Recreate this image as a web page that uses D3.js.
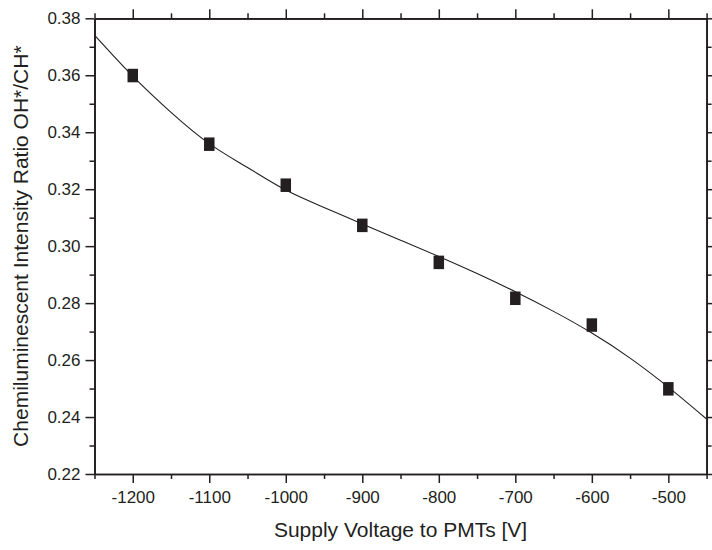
<!DOCTYPE html>
<html>
<head>
<meta charset="utf-8">
<script src="https://cdn.jsdelivr.net/npm/d3@7"></script>
<style>
  body { margin: 0; background: #fff; }
  svg text { font-family: "Liberation Sans", Arial, Helvetica, sans-serif; fill: #231f20; }
</style>
</head>
<body>
<svg id="chart" width="712" height="550"></svg>
<script>
// measured points
const voltages = [-1200, -1100, -1000, -900, -800, -700, -600, -500];
const ratios = [0.3599, 0.3358, 0.3214, 0.3073, 0.2943, 0.2817, 0.2723, 0.2499];

// fitted curve
const fitVoltages = [-1250, -1200, -1150, -1100, -1050, -1000, -950, -900, -850,
  -800, -750, -700, -650, -600, -550, -500, -450];
const fitRatios = [0.3741, 0.3597, 0.3470, 0.3360, 0.3276, 0.3197, 0.3136, 0.3078, 0.3021,
  0.2964, 0.2904, 0.2840, 0.2771, 0.2695, 0.2607, 0.2505, 0.2393];

const xTicks = [-1200, -1100, -1000, -900, -800, -700, -600, -500];
const yTicks = [0.22, 0.24, 0.26, 0.28, 0.30, 0.32, 0.34, 0.36, 0.38];

const ink = '#231f20';
const margin = { top: 18.3, right: 5.4, bottom: 76, left: 94.5 };
const width = 712, height = 550;

const svg = d3.select('#chart');

const x = d3.scaleLinear()
  .domain([-1250, -450])
  .range([margin.left, width - margin.right]);
const y = d3.scaleLinear()
  .domain([0.22, 0.38])
  .range([height - margin.bottom, margin.top]);

const x0 = x.range()[0], x1 = x.range()[1];
const y0 = y.range()[0], y1 = y.range()[1];

// minor ticks halfway between majors
const xMinor = d3.range(-1250, -449, 50).filter(v => !xTicks.includes(v));
const yMinor = d3.range(0, 8).map(i => +(0.23 + i * 0.02).toFixed(2));

function styleAxis(g) {
  g.select('.domain').attr('stroke', ink).attr('stroke-width', 1.7);
  g.selectAll('.tick line').attr('stroke', ink).attr('stroke-width', 1.5);
  g.selectAll('.tick text').style('font-size', '17px').attr('fill', ink);
}

// bottom
svg.append('g')
  .attr('transform', `translate(0,${y0})`)
  .call(d3.axisBottom(x).tickValues(xMinor).tickSize(5).tickFormat('').tickSizeOuter(0))
  .call(styleAxis);
svg.append('g')
  .attr('transform', `translate(0,${y0})`)
  .call(d3.axisBottom(x).tickValues(xTicks).tickSize(9).tickPadding(8)
    .tickFormat(d3.format('d')).tickSizeOuter(0))
  .call(styleAxis)
  .selectAll('.tick text').text(d => String(d));

// top
svg.append('g')
  .attr('transform', `translate(0,${y1})`)
  .call(d3.axisTop(x).tickValues(xMinor).tickSize(5).tickFormat('').tickSizeOuter(0))
  .call(styleAxis);
svg.append('g')
  .attr('transform', `translate(0,${y1})`)
  .call(d3.axisTop(x).tickValues(xTicks).tickSize(9).tickFormat('').tickSizeOuter(0))
  .call(styleAxis);

// left
svg.append('g')
  .attr('transform', `translate(${x0},0)`)
  .call(d3.axisLeft(y).tickValues(yMinor).tickSize(5).tickFormat('').tickSizeOuter(0))
  .call(styleAxis);
svg.append('g')
  .attr('transform', `translate(${x0},0)`)
  .call(d3.axisLeft(y).tickValues(yTicks).tickSize(9).tickPadding(5)
    .tickFormat(d3.format('.2f')).tickSizeOuter(0))
  .call(styleAxis);

// right
svg.append('g')
  .attr('transform', `translate(${x1},0)`)
  .call(d3.axisRight(y).tickValues(yMinor).tickSize(5).tickFormat('').tickSizeOuter(0))
  .call(styleAxis);
svg.append('g')
  .attr('transform', `translate(${x1},0)`)
  .call(d3.axisRight(y).tickValues(yTicks).tickSize(9).tickFormat('').tickSizeOuter(0))
  .call(styleAxis);

// fitted curve
const line = d3.line()
  .x((d, i) => x(fitVoltages[i]))
  .y(d => y(d))
  .curve(d3.curveNatural);

svg.append('path')
  .datum(fitRatios)
  .attr('fill', 'none')
  .attr('stroke', ink)
  .attr('stroke-width', 1.1)
  .attr('d', line);

// square markers
const mw = 10.5, mh = 13.5;
svg.append('g')
  .selectAll('rect')
  .data(ratios)
  .join('rect')
  .attr('x', (d, i) => x(voltages[i]) - mw / 2)
  .attr('y', d => y(d) - mh / 2)
  .attr('width', mw)
  .attr('height', mh)
  .attr('fill', ink);

// axis titles
svg.append('text')
  .attr('x', (x0 + x1) / 2)
  .attr('y', 537)
  .attr('text-anchor', 'middle')
  .style('font-size', '21px')
  .text('Supply Voltage to PMTs [V]');

svg.append('text')
  .attr('transform', `translate(28,${(y0 + y1) / 2}) rotate(-90)`)
  .attr('text-anchor', 'middle')
  .style('font-size', '21px')
  .text('Chemiluminescent Intensity Ratio OH*/CH*');
</script>
</body>
</html>
